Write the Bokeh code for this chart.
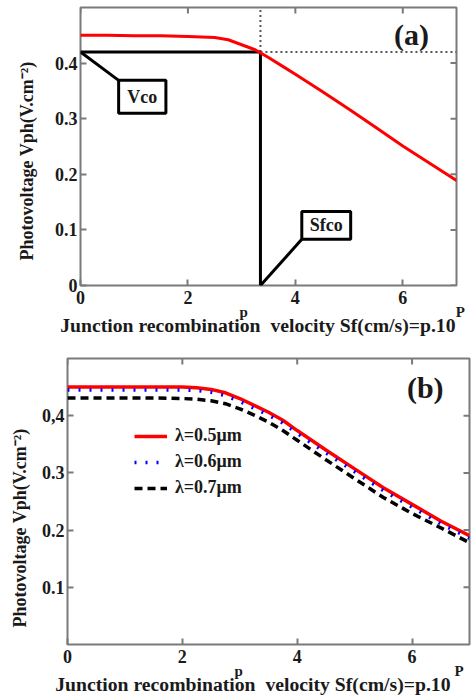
import math
from bokeh.plotting import figure
from bokeh.models import (LinearAxis, FixedTicker, Label, BoxAnnotation, Arrow,
                          Legend, LegendItem, Range1d, Title)
from bokeh.embed import file_html
from bokeh.resources import INLINE

# ---------------- data ----------------
p_vals = [0, 0.5, 1, 1.5, 2, 2.25, 2.5, 2.75, 3, 3.25, 3.5, 3.75, 4, 4.5, 5, 5.5, 6, 6.5, 7]

vph_a = [0.450, 0.450, 0.449, 0.449, 0.448, 0.447, 0.446, 0.442, 0.433, 0.424, 0.410,
         0.395, 0.380, 0.349, 0.317, 0.284, 0.251, 0.220, 0.189]

vph_05 = [0.450, 0.450, 0.450, 0.450, 0.450, 0.449, 0.446, 0.440, 0.430, 0.418, 0.406,
          0.392, 0.374, 0.340, 0.307, 0.274, 0.245, 0.216, 0.190]
vph_06 = [0.445, 0.445, 0.445, 0.445, 0.445, 0.444, 0.441, 0.435, 0.425, 0.413, 0.401,
          0.387, 0.369, 0.335, 0.302, 0.269, 0.240, 0.211, 0.186]
vph_07 = [0.431, 0.431, 0.431, 0.431, 0.430, 0.429, 0.426, 0.421, 0.412, 0.401, 0.389,
          0.374, 0.357, 0.323, 0.290, 0.257, 0.229, 0.204, 0.178]

vco = 0.42
sfco = 3.35

x_ticks = [0, 2, 4, 6]
x_tick_labels = ["0", "2", "4", "6"]
y_ticks_a = [0, 0.1, 0.2, 0.3, 0.4]
y_tick_labels_a = ["0", "0.1", "0.2", "0.3", "0.4"]
y_ticks_b = [0.1, 0.2, 0.3, 0.4]
y_tick_labels_b = ["0.1", "0.2", "0.3", "0,4"]
legend_labels = ["λ=0.5μm", "λ=0.6μm", "λ=0.7μm"]

x_label = "Junction recombination\u00a0 velocity Sf(cm/s)=p.10"
x_var = "p"
x_label_sup = "P"
y_label = "Photovoltage Vph(V.cm⁻²)"

X_MIN, X_MAX = 0, 7
Y_MIN, Y_MAX = 0, 0.5

FONT = "Liberation Serif"
TXT = "#1a1a1a"
FRAME = "#7a7a7a"


def style_axis(ax, size):
    ax.axis_line_color = None
    ax.major_tick_in = 6
    ax.major_tick_out = 0
    ax.major_tick_line_color = FRAME
    ax.major_tick_line_width = 2
    ax.minor_tick_line_color = None
    ax.major_label_text_font = FONT
    ax.major_label_text_font_style = "bold"
    ax.major_label_text_color = TXT
    ax.major_label_text_font_size = size


def make_fig(height, bl, br, bt, bb, y_ticks, y_labels, p_pos, sup_pos, sup_text,
             xlab_off, ylab_off, ylab_standoff):
    p = figure(width=472, height=height, output_backend="svg", toolbar_location=None,
               x_range=Range1d(X_MIN, X_MAX), y_range=Range1d(Y_MIN, Y_MAX),
               x_axis_location=None, y_axis_location=None,
               min_border_left=bl, min_border_right=br, min_border_top=bt,
               min_border_bottom=bb)
    p.xgrid.visible = False
    p.ygrid.visible = False
    p.outline_line_color = FRAME
    p.outline_line_width = 2
    p.background_fill_color = "white"
    p.border_fill_color = "white"

    xb = LinearAxis(ticker=FixedTicker(ticks=x_ticks),
                    major_label_overrides={t: s for t, s in zip(x_ticks, x_tick_labels)})
    style_axis(xb, "18px")
    xb.major_label_standoff = 5
    p.add_layout(xb, "below")

    # second row under the axis: the variable name "p" and the exponent "P"
    xv = LinearAxis(ticker=FixedTicker(ticks=[p_pos, sup_pos]),
                    major_label_overrides={p_pos: x_var, sup_pos: sup_text})
    style_axis(xv, "15px")
    xv.major_tick_line_color = None
    xv.major_label_standoff = -3
    p.add_layout(xv, "below")

    p.add_layout(Title(text=x_label, align="right", offset=xlab_off, standoff=-17,
                       vertical_align="top", text_font=FONT, text_font_style="bold",
                       text_font_size="19.7px", text_color=TXT), "below")

    yl = LinearAxis(ticker=FixedTicker(ticks=y_ticks),
                    major_label_overrides={t: s for t, s in zip(y_ticks, y_labels)})
    style_axis(yl, "18px")
    yl.major_label_standoff = 3
    p.add_layout(yl, "left")

    p.add_layout(Title(text=y_label, align="left", offset=ylab_off, standoff=ylab_standoff,
                       vertical_align="middle", text_font=FONT, text_font_style="bold",
                       text_font_size="18px", text_color=TXT), "left")

    # mirrored tick marks on the top and right edges
    p.scatter(x_ticks, [Y_MAX] * len(x_ticks), marker="dash", size=12, angle=math.pi / 2,
              line_color=FRAME, line_width=2)
    p.scatter([X_MAX] * len(y_ticks), y_ticks, marker="dash", size=12,
              line_color=FRAME, line_width=2)
    return p


# ---------------- panel (a) ----------------
pa = make_fig(346, 80, 16, 7, 61, y_ticks_a, y_tick_labels_a, p_pos=3.04, sup_pos=7,
              sup_text="\u2002P", xlab_off=1, ylab_off=25, ylab_standoff=28)

pa.line([sfco, X_MAX], [vco, vco], line_color="#555555", line_width=2, line_dash="2 3")
pa.line([sfco, sfco], [vco, Y_MAX], line_color="#555555", line_width=2, line_dash="2 3")
pa.line([X_MIN, sfco], [vco, vco], line_color="black", line_width=3)
pa.line([sfco, sfco], [vco, Y_MIN], line_color="black", line_width=3)

pa.line(p_vals, vph_a, line_color="red", line_width=3)

vco_box = dict(left=0.71, right=1.59, bottom=0.310, top=0.369)
pa.add_layout(BoxAnnotation(left=vco_box["left"], right=vco_box["right"],
                            bottom=vco_box["bottom"], top=vco_box["top"],
                            fill_alpha=0, line_alpha=1, line_color="black", line_width=3))
pa.add_layout(Arrow(x_start=X_MIN, y_start=vco, x_end=vco_box["left"], y_end=vco_box["top"],
                    end=None, line_color="black", line_width=3))
pa.add_layout(Label(x=(vco_box["left"] + vco_box["right"]) / 2,
                    y=(vco_box["bottom"] + vco_box["top"]) / 2, text="Vco",
                    text_align="center", text_baseline="middle", text_font=FONT,
                    text_font_style="bold", text_font_size="18px", text_color=TXT))

sf_box = dict(left=4.12, right=5.03, bottom=0.083, top=0.133)
pa.add_layout(BoxAnnotation(left=sf_box["left"], right=sf_box["right"],
                            bottom=sf_box["bottom"], top=sf_box["top"],
                            fill_alpha=0, line_alpha=1, line_color="black", line_width=3))
pa.add_layout(Arrow(x_start=sfco, y_start=Y_MIN, x_end=sf_box["left"], y_end=sf_box["bottom"],
                    end=None, line_color="black", line_width=3))
pa.add_layout(Label(x=(sf_box["left"] + sf_box["right"]) / 2,
                    y=(sf_box["bottom"] + sf_box["top"]) / 2, text="Sfco",
                    text_align="center", text_baseline="middle", text_font=FONT,
                    text_font_style="bold", text_font_size="18px", text_color=TXT))

pa.add_layout(Label(x=6.16, y=0.452, text="(a)", text_align="center", text_baseline="middle",
                    text_font=FONT, text_font_style="bold", text_font_size="30px",
                    text_color=TXT))

# ---------------- panel (b) ----------------
pb = make_fig(350, 67, 3, 12, 52, y_ticks_b, y_tick_labels_b, p_pos=2.98, sup_pos=6.82,
              sup_text="P", xlab_off=19, ylab_off=17, ylab_standoff=16)

r05 = pb.line(p_vals, vph_05, line_color="red", line_width=3.5)
r06 = pb.line(p_vals, vph_06, line_color="blue", line_width=3.5, line_dash="2 9")
r07 = pb.line(p_vals, vph_07, line_color="black", line_width=3.5, line_dash="8 5")

legend = Legend(items=[LegendItem(label=l, renderers=[r]) for l, r in
                       zip(legend_labels, [r05, r06, r07])],
                location=(67, 146), glyph_width=33, glyph_height=20, label_height=20,
                spacing=5, padding=0, margin=0, label_standoff=8,
                background_fill_alpha=0, border_line_alpha=0,
                label_text_font=FONT, label_text_font_style="bold",
                label_text_font_size="18px", label_text_color=TXT)
pb.add_layout(legend)

pb.add_layout(Label(x=6.23, y=0.449, text="(b)", text_align="center", text_baseline="middle",
                    text_font=FONT, text_font_style="bold", text_font_size="30px",
                    text_color=TXT))

open("out.html", "w").write(file_html([pa, pb], INLINE))
